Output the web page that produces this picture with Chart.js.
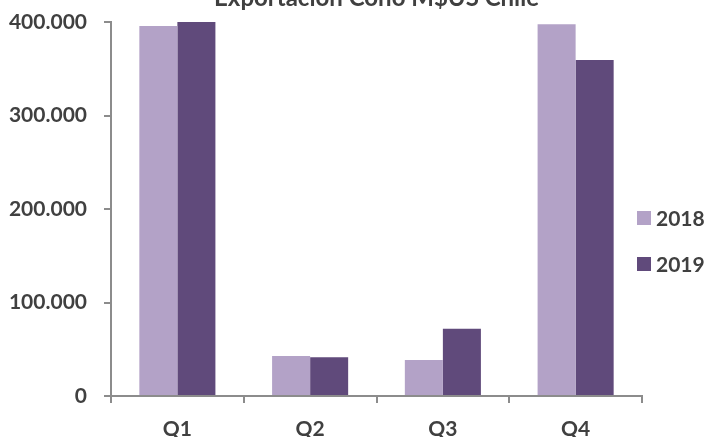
<!DOCTYPE html>
<html>
<head>
<meta charset="utf-8">
<script src="https://cdn.jsdelivr.net/npm/chart.js@4/dist/chart.umd.min.js"></script>
<style>
  html, body { margin: 0; padding: 0; background: #fff; }
  #wrap { position: relative; width: 706px; height: 437px; overflow: hidden; }
  #chart { position: absolute; left: 0; top: 0; }
  #legend { position: absolute; left: 637px; top: 205px; font: bold 21px Lato, sans-serif; color: #404040; }
  #legend .item { display: flex; align-items: center; height: 25px; margin-bottom: 21px; }
  #legend .box { width: 14px; height: 14px; margin-right: 5px; }
</style>
</head>
<body>
<div id="wrap">
  <canvas id="chart" width="706" height="437"></canvas>
  <div id="legend"></div>
</div>
<script>
// Quarterly cone exports, M$US
const chartTitle = 'Exportación Cono M$US Chile';
const quarters = ['Q1', 'Q2', 'Q3', 'Q4'];
const seriesNames = ['2018', '2019'];
const values2018 = [395700, 42800, 38500, 397500];
const values2019 = [400000, 41400, 72000, 359400];
const yTickValues = [0, 100000, 200000, 300000, 400000];

const colors = ['#B3A2C7', '#604A7B'];
const textColor = '#404040';
const axisColor = '#8C8C8C';
const fontFamily = 'Lato, sans-serif';

// thousands separated with dots: 400000 -> "400.000"
function fmt(v) {
  return String(Math.round(v)).replace(/\B(?=(\d{3})+(?!\d))/g, '.');
}

// Title drawn centred over the plot area, partly clipped by the top edge
const titlePlugin = {
  id: 'topTitle',
  afterDraw(chart) {
    const { ctx, chartArea } = chart;
    ctx.save();
    ctx.font = 'bold 24px ' + fontFamily;
    ctx.fillStyle = textColor;
    ctx.textAlign = 'center';
    ctx.textBaseline = 'alphabetic';
    ctx.fillText(chartTitle, (chartArea.left + chartArea.right) / 2, 6);
    ctx.restore();
  }
};

const chart = new Chart(document.getElementById('chart'), {
  type: 'bar',
  data: {
    labels: quarters,
    datasets: [
      { label: seriesNames[0], data: values2018, backgroundColor: colors[0] },
      { label: seriesNames[1], data: values2019, backgroundColor: colors[1] }
    ]
  },
  options: {
    responsive: false,
    animation: false,
    devicePixelRatio: 1,
    layout: { padding: { left: 0, right: 64, top: 22, bottom: 0 } },
    datasets: { bar: { categoryPercentage: 0.573, barPercentage: 1.0 } },
    plugins: {
      legend: { display: false },
      tooltip: { enabled: false },
      title: { display: false }
    },
    scales: {
      x: {
        offset: true,
        grid: { display: true, drawOnChartArea: false, offset: true, tickLength: 7, color: axisColor, lineWidth: 2 },
        border: { display: true, color: axisColor, width: 2 },
        ticks: { color: textColor, font: { family: fontFamily, size: 21, weight: 'bold' }, padding: 14 },
        afterFit(scale) {
          scale.height = 41;
          scale.paddingLeft = 0;
          scale.paddingRight = 0;
        }
      },
      y: {
        min: 0,
        max: 400000,
        afterBuildTicks(scale) { scale.ticks = yTickValues.map(v => ({ value: v })); },
        grid: { display: true, drawOnChartArea: false, tickLength: 7, color: axisColor, lineWidth: 2 },
        border: { display: true, color: axisColor, width: 2 },
        ticks: {
          color: textColor,
          font: { family: fontFamily, size: 21, weight: 'bold' },
          padding: 17,
          callback: (v) => fmt(v)
        },
        afterFit(scale) {
          scale.width = 111;
          scale.paddingTop = 0;
          scale.paddingBottom = 0;
        }
      }
    }
  },
  plugins: [titlePlugin]
});

// Legend on the right, built from the dataset labels and colours
const legend = document.getElementById('legend');
chart.data.datasets.forEach(ds => {
  const item = document.createElement('div');
  item.className = 'item';
  const box = document.createElement('span');
  box.className = 'box';
  box.style.background = ds.backgroundColor;
  const label = document.createElement('span');
  label.textContent = ds.label;
  item.appendChild(box);
  item.appendChild(label);
  legend.appendChild(item);
});
</script>
</body>
</html>
